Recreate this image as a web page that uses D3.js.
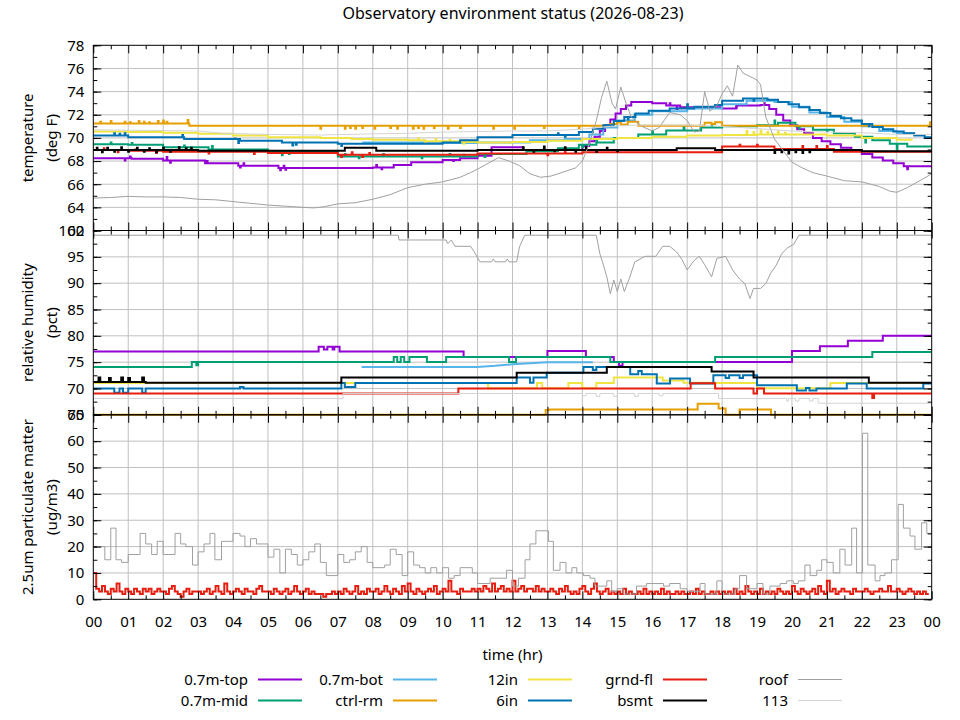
<!DOCTYPE html>
<html>
<head>
<meta charset="utf-8">
<script src="https://cdn.jsdelivr.net/npm/d3@7"></script>
<style>
body { margin: 0; background: #fff; }
text { font-family: "Noto Sans", sans-serif; fill: #000; }
</style>
</head>
<body>
<script>
// ---------- data (hours since midnight) ----------
const hourLabels = ["00","01","02","03","04","05","06","07","08","09","10","11","12",
                    "13","14","15","16","17","18","19","20","21","22","23","00"];
const tempTicks = [62,64,66,68,70,72,74,76,78];
const rhTicks = [65,70,75,80,85,90,95,100];
const pmTicks = [0,10,20,30,40,50,60,70];

// temperature (deg F) - step change points
const tempTop = [[0,68.25],[1.1,68.2],[2.0,68.05],[3.2,67.8],[4.15,67.6],[5.3,67.4],[8.0,67.45],[8.6,67.65],[9.1,67.9],[10.0,68.1],[10.5,68.25],[11.0,68.45],[11.4,69.2],[12.3,68.95],[14.0,69.3],[14.2,69.7],[14.35,70.1],[14.5,70.6],[14.65,71.1],[14.8,71.6],[14.95,72.1],[15.1,72.5],[15.25,72.8],[15.4,73.1],[16.0,73.0],[16.4,72.8],[16.8,72.65],[18.0,72.55],[18.4,72.8],[19.1,72.85],[19.35,72.5],[19.55,72.0],[19.75,71.5],[19.95,71.1],[20.15,70.75],[20.35,70.4],[20.6,70.0],[20.85,69.7],[21.1,69.45],[21.4,69.15],[21.7,68.9],[22.0,68.6],[22.3,68.3],[22.6,68.05],[22.9,67.8],[23.2,67.55],[24,67.55]];
const tempTopSpikes = [[0.9,68.05],[1.05,68.4],[2.1,68.35],[2.2,67.85],[3.25,68.0],[4.2,67.45],[4.3,67.8],[5.35,67.2],[5.45,67.6],[5.5,67.25],[8.1,67.65],[8.25,67.3],[10.3,68.0],[16.5,73.0],[16.7,72.5],[18.4,72.6],[19.2,73.0],[23.3,67.3]];
const tempMid = [[0,69.45],[1.0,69.4],[2.0,69.2],[3.3,69.0],[5.0,68.85],[7.0,68.4],[11.0,68.6],[12.4,68.85],[13.3,69.1],[13.9,69.4],[14.4,69.6],[14.9,70.0],[15.6,70.3],[16.4,70.65],[17.4,70.9],[18.0,71.0],[19.0,71.1],[19.6,71.3],[20.1,71.0],[20.6,70.7],[21.2,70.4],[21.8,70.1],[22.3,69.8],[22.8,69.5],[23.3,69.25],[24,69.2]];
const tempMidSpikes = [[0.5,69.6],[1.1,69.55],[2.6,69.35],[3.4,69.3],[5.4,68.5],[5.6,68.6],[7.2,68.6],[7.6,68.25],[8.3,68.6],[9.4,68.25],[10.2,68.6],[10.6,68.55],[11.2,68.35],[14.0,69.2],[14.4,69.8],[16.0,70.6],[16.9,70.95],[17.7,71.1],[19.5,71.5],[20.2,70.8],[21.0,70.6],[22.1,69.6],[23.0,69.0]];
const tempBot = [[7.7,69.6],[9.5,69.55],[11.0,69.6],[12.5,69.8],[13.5,69.9],[14.2,70.3],[14.6,70.9],[15.0,71.5],[15.5,72.0],[16.0,72.3],[17.0,72.55],[18.0,72.9],[18.7,73.2],[19.5,73.1],[20.0,72.7],[20.5,72.2],[21.0,71.8],[21.5,71.4],[22.0,71.0],[22.5,70.6],[23.0,70.4],[23.5,70.4]];
const tempCtrl = [[0,71.25],[2.75,71.05],[14.8,71.2],[15.0,71.35],[15.1,71.15],[15.3,71.4],[15.6,71.05],[17.5,71.3],[17.7,71.2],[17.8,71.35],[18.0,71.05],[24,71.05]];
const tempCtrlSpikes = [[0.2,71.4],[0.5,71.45],[0.9,71.4],[1.05,71.35],[1.3,71.45],[1.45,71.4],[1.6,71.35],[1.85,71.45],[2.0,71.5],[2.1,71.4],[2.7,71.55],[6.5,70.8],[7.2,70.8],[7.35,70.85],[7.5,70.8],[7.7,70.85],[8.05,70.8],[8.5,70.85],[8.7,70.8],[9.15,70.8],[9.3,70.85],[9.45,70.8],[9.75,70.85],[10.15,70.8],[10.5,70.85],[11.45,70.8],[12.05,70.8],[12.9,70.85],[13.9,70.85],[23.95,71.35]];
const temp12in = [[0,70.55],[1.0,70.5],[2.0,70.45],[3.0,70.35],[4.0,70.2],[5.0,70.05],[6.5,70.0],[7.4,69.9],[8.0,69.85],[9.0,69.8],[9.5,69.7],[10.5,69.65],[11.0,69.6],[12.0,69.65],[13.0,69.75],[14.0,69.9],[15.0,70.0],[16.0,70.1],[17.0,70.2],[18.0,70.25],[19.0,70.3],[20.0,70.3],[21.0,70.2],[22.0,70.0],[23.0,69.85],[23.43,69.8]];
const temp12inSpikes = [[9.3,69.95],[9.5,69.6],[9.8,69.9],[10.2,69.85],[10.6,69.5],[18.7,70.6],[18.9,70.5],[19.1,70.65],[19.3,70.5],[19.6,70.55],[19.8,70.45]];
const temp6in = [[0,70.2],[1.0,70.05],[2.6,69.9],[4.2,69.75],[5.4,69.6],[7.0,69.5],[10.0,69.6],[10.5,69.8],[11.0,70.05],[12.0,70.25],[13.9,70.5],[14.3,70.8],[14.6,71.1],[14.9,71.45],[15.2,71.8],[15.5,72.1],[15.9,72.35],[16.5,72.55],[17.2,72.7],[17.8,72.85],[18.0,73.2],[18.6,73.4],[19.3,73.3],[19.6,73.1],[19.9,72.9],[20.2,72.65],[20.5,72.4],[20.8,72.15],[21.1,71.9],[21.4,71.7],[21.7,71.5],[22.0,71.2],[22.3,70.95],[22.6,70.75],[22.9,70.55],[23.2,70.4],[23.5,70.2],[23.8,70.05],[24,70.05]];
const temp6inSpikes = [[0.6,70.4],[0.75,70.35],[0.9,70.4],[2.55,70.25],[4.05,69.95],[4.15,69.55],[5.7,69.35],[5.8,69.4],[7.1,69.3],[13.3,70.4],[13.5,70.1],[15.3,71.6],[15.5,71.8],[17.0,72.9],[18.9,73.2],[22.2,71.0]];
const tempGrnd = [[0,68.95],[1.0,68.9],[2.0,68.8],[5.0,68.7],[7.0,68.55],[11.0,68.65],[14.0,68.75],[18.0,69.25],[19.5,69.05],[21.2,68.8],[24,68.8]];
const tempGrndSpikes = [[0.3,69.1],[0.7,68.75],[1.2,69.0],[1.8,68.7],[2.5,68.95],[3.3,68.65],[4.0,68.9],[4.6,68.6],[7.1,68.35],[7.4,68.75],[7.7,68.35],[7.9,68.7],[13.0,68.5],[13.5,68.85],[18.5,69.4],[19.0,69.4],[20.3,69.3],[20.7,69.3],[21.0,69.3]];
const tempBsmt = [[0,68.95],[3.0,68.9],[7.2,69.15],[8.1,68.9],[11.0,68.95],[16.7,69.1],[17.8,68.95],[22.0,68.85],[24,68.8]];
const tempBsmtSpikes = [[0.1,69.15],[0.25,68.75],[0.4,69.15],[0.6,68.8],[0.8,69.2],[1.0,68.8],[1.25,69.15],[1.45,68.8],[1.6,69.1],[1.8,68.75],[2.0,69.15],[2.2,68.8],[2.45,69.2],[2.65,69.1],[2.8,69.15],[12.3,69.2],[12.6,68.8],[12.9,69.25],[13.2,68.85],[13.5,69.2],[13.8,68.8],[14.1,69.2],[14.4,68.8],[14.7,69.15],[15.0,68.85],[19.5,68.7],[19.7,68.75],[19.9,68.65],[20.1,68.75],[20.3,68.7],[20.5,68.75]];
const tempRoof = [[0,64.8],[0.5,64.85],[1.0,64.95],[1.5,64.9],[2.0,64.9],[2.5,64.85],[3.0,64.7],[3.5,64.65],[4.0,64.5],[4.5,64.35],[5.0,64.2],[5.5,64.1],[6.0,64.0],[6.3,63.95],[6.6,64.05],[7.0,64.3],[7.5,64.4],[8.0,64.7],[8.5,65.1],[9.0,65.7],[9.5,66.0],[10.0,66.2],[10.5,66.6],[10.8,67.0],[11.0,67.3],[11.3,67.8],[11.6,68.3],[11.9,68.0],[12.2,67.6],[12.5,66.9],[12.8,66.6],[13.1,66.7],[13.5,67.1],[13.8,67.4],[14.0,68.0],[14.2,69.5],[14.4,71.5],[14.55,73.5],[14.7,74.9],[14.85,73.0],[14.95,72.5],[15.1,74.4],[15.25,73.0],[15.4,71.8],[15.7,71.0],[16.0,70.6],[16.2,70.9],[16.5,72.2],[16.8,72.0],[17.0,71.5],[17.2,70.5],[17.35,70.6],[17.5,74.0],[17.65,72.3],[17.85,72.8],[18.0,73.8],[18.15,74.5],[18.3,73.6],[18.45,76.3],[18.6,75.6],[18.8,75.3],[19.0,75.0],[19.1,74.6],[19.25,71.8],[19.5,69.9],[19.8,68.7],[20.0,67.9],[20.3,67.4],[20.6,67.0],[21.0,66.7],[21.5,66.3],[22.0,66.2],[22.5,65.8],[22.8,65.4],[23.0,65.3],[23.3,65.7],[23.6,66.2],[24.0,66.9]];
const temp113 = [[0,70.7],[1.5,70.65],[3.0,70.6],[3.7,70.4],[5.0,70.3],[6.5,70.25],[8.0,70.35],[9.0,70.4],[10.0,70.5],[11.0,70.55],[12.0,70.6],[13.0,70.6],[14.0,70.75],[14.8,71.0],[15.5,71.1],[17.0,71.1],[18.0,71.0],[19.0,70.8],[20.0,70.6],[21.0,70.5],[22.0,70.45],[23.0,70.3],[24,70.3]];

// relative humidity (pct)
const rhTop = [[0,77.0],[6.45,77.9],[6.6,77.4],[6.7,77.9],[6.85,77.4],[6.9,77.9],[7.05,77.0],[10.6,76.0],[13.0,77.1],[14.1,76.0],[14.9,75.05],[15.05,74.3],[15.15,75.05],[20.0,77.1],[20.8,78.0],[21.6,79.05],[22.6,80.0],[24,80.0]];
const rhMid = [[0,74.1],[2.82,75.05],[2.95,74.4],[3.0,75.05],[8.6,76.0],[8.7,75.05],[8.8,76.0],[8.9,75.05],[9.05,76.0],[9.55,75.05],[10.1,76.0],[11.9,75.05],[12.1,76.0],[14.8,75.05],[17.8,76.0],[22.3,76.95],[24,76.95]];
const rhBot = [[7.68,74.1],[11.0,74.1],[11.5,74.3],[12.0,74.6],[12.5,74.8],[13.0,75.0],[14.3,75.0]];
const rhCtrl = [[0,65.0],[12.95,65.9],[13.05,66.0],[17.3,67.1],[17.9,66.2],[18.1,65.0],[18.5,66.0],[19.4,65.0],[24,65.0]];
const rh12in = [[0,71.05],[11.3,70.05],[12.7,71.05],[12.85,70.05],[13.6,71.05],[14.0,70.05],[14.4,71.05],[14.9,72.1],[16.3,71.5],[16.9,71.1],[17.8,71.05],[19.0,70.05],[21.1,71.05],[24,71.05]];
const rh6in = [[0,70.0],[0.6,69.2],[0.75,70.0],[0.85,69.2],[1.0,70.0],[1.4,69.2],[1.5,70.0],[4.2,70.3],[4.3,70.0],[7.1,71.05],[7.2,70.3],[7.5,71.05],[12.12,72.1],[12.5,71.1],[12.6,72.1],[12.98,73.0],[14.03,74.1],[14.3,73.5],[14.4,74.1],[15.37,72.7],[15.6,73.3],[15.7,72.7],[16.13,70.95],[16.51,71.9],[17.08,70.95],[17.75,72.5],[18.1,72.0],[18.2,72.5],[18.5,72.0],[18.6,72.5],[19.0,70.6],[20.14,69.6],[20.4,70.1],[20.5,69.6],[20.7,70.0],[21.57,70.95],[22.14,70.0],[23.76,70.95],[24,70.95]];
const rhGrnd = [[0,69.05],[10.45,70.0],[17.1,71.0],[17.8,70.0],[18.9,69.05],[19.0,70.0],[19.2,69.05],[22.3,68.2],[22.35,69.05],[24,69.05]];
const rhBsmt = [[0,71.25],[0.15,72.1],[0.2,71.25],[0.45,72.0],[0.5,71.25],[0.8,72.1],[0.85,71.25],[1.0,72.0],[1.05,71.25],[1.4,72.1],[1.45,71.25],[1.5,71.1],[7.1,72.1],[12.12,73.0],[14.7,74.1],[17.7,73.2],[18.9,72.1],[22.2,71.1],[24,71.1]];
const rhRoof = [[0,99.1],[8.73,99.1],[8.75,98.2],[10.1,98.2],[10.15,97.5],[10.25,98.2],[10.35,97.0],[10.8,97.0],[10.9,96.0],[11.07,94.05],[11.4,94.05],[11.45,94.6],[11.5,94.05],[11.8,94.05],[11.85,94.6],[11.9,94.05],[12.12,94.05],[12.2,96.9],[12.35,99.1],[14.4,99.1],[14.5,95.6],[14.6,93.5],[14.7,91.2],[14.8,88.0],[14.9,90.6],[15.0,88.4],[15.1,90.8],[15.2,88.4],[15.35,91.0],[15.5,94.05],[15.8,95.1],[16.1,95.1],[16.3,97.0],[16.5,97.0],[16.7,95.9],[16.85,94.5],[17.0,92.5],[17.2,94.3],[17.35,95.1],[17.5,93.5],[17.7,91.2],[17.85,94.7],[18.1,95.1],[18.3,92.5],[18.5,90.8],[18.65,89.9],[18.8,87.1],[18.9,89.0],[19.1,89.0],[19.25,89.9],[19.4,92.0],[19.55,93.4],[19.7,95.5],[19.85,96.6],[20.05,97.4],[20.2,99.1],[24,99.1]];
const rh113 = [[0,68.1],[7.15,69.05],[14.0,68.6],[14.1,69.05],[14.4,68.5],[14.5,69.05],[14.9,68.5],[15.0,69.05],[15.5,68.5],[15.6,69.05],[16.2,68.6],[16.3,69.05],[17.9,68.1],[19.85,67.6],[19.9,68.1],[20.1,67.6],[20.2,68.1],[20.5,67.6],[20.6,68.1],[20.75,67.2],[24,67.2]];

// 2.5um particulate matter (ug/m3)
const pmGrnd5min = [ // one value every 5 minutes, one row per hour
  10,4,3,5,3,2,4,3,6,3,2,4,  3,2,4,3,2,4,3,4,2,3,4,3,  3,2,4,5,3,2,1,3,4,2,3,3,
  3,2,3,4,2,3,5,3,2,6,3,2,   3,4,3,2,4,3,3,2,4,5,3,3,  3,2,4,3,2,3,4,2,3,5,3,2,
  3,4,2,3,2,2,2,1,2,2,3,2,   3,2,4,3,2,3,5,2,3,2,4,3,  3,4,2,3,5,3,2,4,3,2,5,3,
  6,3,2,4,3,2,3,4,3,5,2,3,   4,3,7,3,3,2,4,3,3,3,4,3,  4,3,5,4,3,6,3,4,5,3,4,3,
  7,3,4,5,3,4,4,3,5,3,4,3,   3,4,3,2,4,3,5,3,2,3,2,4,  5,3,2,4,6,3,2,3,4,2,3,2,
  3,2,4,2,3,2,2,3,2,4,2,3,   2,3,2,4,2,3,2,2,3,2,3,2,  2,3,2,4,2,3,2,2,3,2,3,2,
  3,2,3,2,4,2,3,2,5,3,2,3,   2,4,2,3,2,3,2,4,3,2,3,2,  5,3,2,4,3,2,3,4,2,5,3,2,
  7,3,4,2,3,4,3,3,2,4,3,3,   3,4,3,2,3,3,4,3,3,5,3,3,  4,3,2,3,4,3,2,3,2,3,2,2];
const pmRoof = [[0,20],[0.33,15],[0.5,27],[0.65,15],[0.81,14],[1.0,17],[1.34,25],[1.5,21],[1.67,17],[1.83,22],[2.0,17],[2.34,25],[2.5,21],[2.65,20],[2.84,13],[3.0,18],[3.17,21],[3.34,25],[3.48,15],[3.67,22],[4.0,25],[4.2,24],[4.34,20],[4.5,23],[4.67,21],[5.0,16],[5.17,19],[5.34,10],[5.5,19],[5.67,17],[5.84,13],[6.0,15],[6.17,18],[6.34,21],[6.5,14],[6.67,9],[7.0,17],[7.17,14],[7.34,15],[7.5,18],[7.67,20],[7.84,14],[8.0,12],[8.34,13],[8.5,19],[8.67,17],[8.84,9],[9.0,18],[9.17,13],[9.34,12],[9.5,10],[9.66,12],[9.83,10],[10.0,12],[10.17,8],[10.33,9],[10.5,12],[10.85,10],[11.0,6],[11.36,8],[11.83,11],[12.0,5],[12.17,8],[12.36,15],[12.5,21],[12.67,26],[13.03,22],[13.17,11],[13.36,14],[13.53,10],[13.7,12],[13.84,10],[14.03,9],[14.22,8],[14.36,5],[14.7,7],[14.84,3],[15.0,4],[15.17,2],[15.55,5],[15.84,6],[16.32,5],[16.5,6],[16.8,4],[17.0,3],[17.37,6],[17.51,2],[17.85,7],[18.0,2],[18.37,4],[18.5,9],[18.7,4],[19.0,6],[19.17,2],[19.37,5],[19.66,6],[19.85,7],[20.04,6],[20.18,7],[20.37,13],[20.52,9],[20.71,11],[20.85,15],[21.0,14],[21.18,10],[21.37,19],[21.52,13],[21.71,27],[21.85,10],[22.02,63],[22.17,13],[22.38,7],[22.52,9],[22.66,10],[22.85,15],[23.04,36],[23.19,27],[23.38,24],[23.52,19],[23.71,29],[23.86,25],[24,25]];

// ---------- helpers ----------
// insert one-sample spikes into a step series, returning to the current level
function addSpikes(steps, spikes) {
  const out = steps.slice();
  spikes.forEach(([t, v]) => {
    let level = steps[0][1];
    steps.forEach(d => { if (d[0] <= t) level = d[1]; });
    out.push([t, v], [t + 0.02, level]);
  });
  return out.sort((a, b) => a[0] - b[0]);
}
const pmGrnd = pmGrnd5min.map((v, i) => [i / 12, v]);

// ---------- layout ----------
const w = 960, h = 720;
const X0 = 93.3, X1 = 931.7;

const svg = d3.select("body").append("svg")
  .attr("width", w).attr("height", h);

const x = d3.scaleLinear().domain([0, 24]).range([X0, X1]);

const style = {
  "0.7m-top": {color: "#9400d3", width: 2},
  "0.7m-mid": {color: "#009e73", width: 2},
  "0.7m-bot": {color: "#56b4e9", width: 2},
  "ctrl-rm":  {color: "#e69f00", width: 2},
  "12in":     {color: "#f0e442", width: 2},
  "6in":      {color: "#0072b2", width: 2},
  "grnd-fl":  {color: "#e51e10", width: 2},
  "bsmt":     {color: "#000000", width: 2},
  "roof":     {color: "#a0a0a0", width: 1},
  "113":      {color: "#d3d3d3", width: 1}
};

const panels = [
  { top: 45.3, bottom: 230.5, domain: [62, 78], ticks: tempTicks, minor: 1,
    title: ["temperature", "(deg F)"],
    series: [
      ["0.7m-top", addSpikes(tempTop, tempTopSpikes), d3.curveStepAfter],
      ["0.7m-mid", addSpikes(tempMid, tempMidSpikes), d3.curveStepAfter],
      ["0.7m-bot", tempBot, d3.curveStepAfter],
      ["ctrl-rm", addSpikes(tempCtrl, tempCtrlSpikes), d3.curveStepAfter],
      ["12in", addSpikes(temp12in, temp12inSpikes), d3.curveStepAfter],
      ["6in", addSpikes(temp6in, temp6inSpikes), d3.curveStepAfter],
      ["grnd-fl", addSpikes(tempGrnd, tempGrndSpikes), d3.curveStepAfter],
      ["bsmt", addSpikes(tempBsmt, tempBsmtSpikes), d3.curveStepAfter],
      ["roof", tempRoof, d3.curveLinear],
      ["113", temp113, d3.curveLinear]
    ]},
  { top: 230.5, bottom: 414.8, domain: [65, 100], ticks: rhTicks, minor: 2.5,
    title: ["relative humidity", "(pct)"],
    series: [
      ["0.7m-top", rhTop, d3.curveStepAfter],
      ["0.7m-mid", rhMid, d3.curveStepAfter],
      ["0.7m-bot", rhBot, d3.curveLinear],
      ["ctrl-rm", rhCtrl, d3.curveStepAfter],
      ["12in", rh12in, d3.curveStepAfter],
      ["6in", rh6in, d3.curveStepAfter],
      ["grnd-fl", rhGrnd, d3.curveStepAfter],
      ["bsmt", rhBsmt, d3.curveStepAfter],
      ["roof", rhRoof, d3.curveLinear],
      ["113", rh113, d3.curveStepAfter]
    ]},
  { top: 414.8, bottom: 599.3, domain: [0, 70], ticks: pmTicks, minor: 5,
    title: ["2.5um particulate matter", "(ug/m3)"],
    series: [
      ["grnd-fl", pmGrnd, d3.curveStepAfter],
      ["roof", pmRoof, d3.curveStepAfter]
    ]}
];

function fontUp(sel) {
  sel.selectAll("text").attr("font-size", 15).attr("font-family", "Noto Sans, sans-serif");
  sel.select(".domain").remove();
}

panels.forEach((p, pi) => {
  const y = d3.scaleLinear().domain(p.domain).range([p.bottom, p.top]);
  const g = svg.append("g");
  const minorTicks = d3.range(p.domain[0], p.domain[1] + 0.001, p.minor);
  const hourTicks = d3.range(0, 25);
  const halfHours = d3.range(0.5, 24, 1);

  // grid
  g.append("g").selectAll("line").data(hourTicks.slice(1, -1)).join("line")
    .attr("x1", d => x(d)).attr("x2", d => x(d))
    .attr("y1", p.top).attr("y2", p.bottom)
    .attr("stroke", "#c0c0c0").attr("stroke-width", 1);
  g.append("g").selectAll("line").data(p.ticks.slice(1, -1)).join("line")
    .attr("x1", X0).attr("x2", X1)
    .attr("y1", d => y(d)).attr("y2", d => y(d))
    .attr("stroke", "#c0c0c0").attr("stroke-width", 1);

  // series
  svg.append("clipPath").attr("id", "clip" + pi)
    .append("rect").attr("x", X0).attr("y", p.top - 1.5)
    .attr("width", X1 - X0).attr("height", p.bottom - p.top + 3);
  const lines = g.append("g").attr("clip-path", `url(#clip${pi})`);
  p.series.forEach(([name, data, curve]) => {
    const line = d3.line().x(d => x(d[0])).y(d => y(d[1])).curve(curve);
    lines.append("path").datum(data)
      .attr("d", line)
      .attr("fill", "none")
      .attr("stroke", style[name].color)
      .attr("stroke-width", style[name].width)
      .attr("stroke-linejoin", "miter");
  });

  // border
  g.append("rect").attr("x", X0).attr("y", p.top)
    .attr("width", X1 - X0).attr("height", p.bottom - p.top)
    .attr("fill", "none").attr("stroke", "#000").attr("stroke-width", 1);

  // ticks (all pointing inward, mirrored)
  g.append("g").attr("transform", `translate(${X0},0)`)
    .call(d3.axisLeft(y).tickValues(minorTicks).tickSize(-4).tickFormat("")).call(fontUp);
  g.append("g").attr("transform", `translate(${X1},0)`)
    .call(d3.axisRight(y).tickValues(minorTicks).tickSize(-4).tickFormat("")).call(fontUp);
  g.append("g").attr("transform", `translate(${X0},0)`)
    .call(d3.axisLeft(y).tickValues(p.ticks).tickSize(-8).tickPadding(9).tickFormat(d3.format("d"))).call(fontUp);
  g.append("g").attr("transform", `translate(${X1},0)`)
    .call(d3.axisRight(y).tickValues(p.ticks).tickSize(-8).tickFormat("")).call(fontUp);

  g.append("g").attr("transform", `translate(0,${p.top})`)
    .call(d3.axisTop(x).tickValues(halfHours).tickSize(-4).tickFormat("")).call(fontUp);
  g.append("g").attr("transform", `translate(0,${p.top})`)
    .call(d3.axisTop(x).tickValues(hourTicks).tickSize(-8).tickFormat("")).call(fontUp);
  g.append("g").attr("transform", `translate(0,${p.bottom})`)
    .call(d3.axisBottom(x).tickValues(halfHours).tickSize(-4).tickFormat("")).call(fontUp);
  const xb = d3.axisBottom(x).tickValues(hourTicks).tickSize(-8).tickPadding(17.5)
    .tickFormat((d, i) => pi === panels.length - 1 ? hourLabels[i] : "");
  g.append("g").attr("transform", `translate(0,${p.bottom})`).call(xb).call(fontUp);

  // axis title (two lines, rotated)
  const cy = (p.top + p.bottom) / 2;
  p.title.forEach((t, k) => {
    svg.append("text")
      .attr("transform", `translate(${33 + k * 23.5},${cy}) rotate(-90)`)
      .attr("text-anchor", "middle").attr("font-size", 15)
      .text(t);
  });
});

// title and x label
svg.append("text").attr("x", 513).attr("y", 19)
  .attr("text-anchor", "middle").attr("font-size", 16)
  .text("Observatory environment status (2026-08-23)");
svg.append("text").attr("x", 512.5).attr("y", 660)
  .attr("text-anchor", "middle").attr("font-size", 15)
  .text("time (hr)");

// legend: two rows, column-major
const legendNames = ["0.7m-top","0.7m-mid","0.7m-bot","ctrl-rm","12in","6in","grnd-fl","bsmt","roof","113"];
const legend = svg.append("g");
legendNames.forEach((name, i) => {
  const col = Math.floor(i / 2), row = i % 2;
  const tx = 248 + col * 135, ty = 679.5 + row * 21;
  legend.append("text").attr("x", tx).attr("y", ty + 5.3)
    .attr("text-anchor", "end").attr("font-size", 15).text(name);
  legend.append("line")
    .attr("x1", tx + 10).attr("x2", tx + 54)
    .attr("y1", ty).attr("y2", ty)
    .attr("stroke", style[name].color).attr("stroke-width", style[name].width);
});
</script>
</body>
</html>
